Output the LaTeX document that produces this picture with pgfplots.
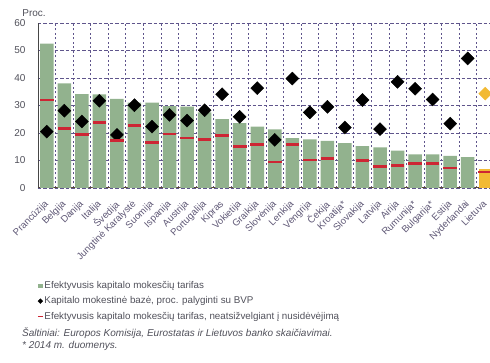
\documentclass[border=0pt]{standalone}
\usepackage{pgfplots}
\pgfplotsset{compat=1.18}
\usepackage{fontspec}
\setmainfont{Liberation Sans}
\definecolor{barg}{RGB}{146,178,142}
\definecolor{baro}{RGB}{242,186,52}
\definecolor{redm}{RGB}{205,38,52}
\definecolor{gridc}{RGB}{95,85,140}
\definecolor{labc}{RGB}{95,88,118}
\definecolor{txtc}{RGB}{80,80,90}
\begin{document}
\begin{tikzpicture}[x=1pt,y=1pt]
\begin{axis}[
  at={(38pt,175pt)}, anchor=south west,
  scale only axis, width=452pt, height=165pt,
  xmin=-0.5, xmax=25.27, ymin=0, ymax=60,
  clip=true,
  axis x line=bottom, axis y line=left,
  axis line style={-},
  x axis line style={draw={rgb,255:red,90;green,70;blue,50}, line width=1pt},
  y axis line style={draw={rgb,255:red,70;green,70;blue,70}, line width=0.8pt},
  xtick={0,...,25},
  minor xtick={0.5,1.5,...,24.5},
  ytick={0,10,...,60},
  major tick length=0pt, minor tick length=0pt,
  ymajorgrids, xminorgrids,
  major grid style={gridc, dash pattern=on 3.5pt off 2pt, line width=0.6pt},
  minor grid style={gridc, dash pattern=on 2pt off 2.5pt, line width=0.55pt},
  /pgf/number format/assume math mode=true,
  yticklabel style={font=\fontsize{10}{12}\selectfont, text=txtc, xshift=-9pt},
  xticklabels={Prancūzija,Belgija,Danija,Italija,Švedija,Jungtinė Karalystė,Suomija,Ispanija,Austrija,Portugalija,Kipras,Vokietija,Graikija,Slovėnija,Lenkija,Vengrija,Čekija,Kroatija*,Slovakija,Latvija,Airija,Rumunija*,Bulgarija*,Estija,Nyderlandai,Lietuva},
  xticklabel style={xshift=-3pt, yshift=-10pt, rotate=45, anchor=north east, font=\fontsize{9.6}{10}\selectfont, text=labc, inner sep=1pt},
  legend style={at={(-0.002,-0.56)}, anchor=north west, draw=none, fill=none,
    font=\fontsize{9.8}{11}\selectfont, text=txtc, row sep=4.6pt, inner sep=0pt,
    nodes={inner sep=1pt}},
  legend cell align=left,
]
\addplot[ybar, bar width=13.5pt, bar shift=0pt, fill=barg, draw=none,
  legend image code/.code={\fill[barg] (0pt,-2.3pt) rectangle (4.6pt,2.3pt);}]
  coordinates {(0,52.5)(1,38.0)(2,34.1)(3,34.0)(4,32.4)(5,31.0)(6,31.0)(7,29.8)(8,29.6)(9,27.5)(10,25.0)(11,23.6)(12,22.3)(13,21.3)(14,18.1)(15,17.7)(16,17.1)(17,16.3)(18,15.2)(19,14.8)(20,13.6)(21,12.2)(22,12.2)(23,11.7)(24,11.2)};
\addlegendentry{Efektyvusis kapitalo mokesčių tarifas}
\addplot[ybar, bar width=13.5pt, bar shift=0pt, fill=baro, draw=none, forget plot]
  coordinates {(25,7.0)};
\addplot[only marks, mark=square*, mark size=4.6pt, mark options={rotate=45, fill=black, draw=black},
  legend image code/.code={\fill[black] (0pt,0pt) -- (2.4pt,2.4pt) -- (4.8pt,0pt) -- (2.4pt,-2.4pt) -- cycle;}]
  coordinates {(0,20.5)(1,28.1)(2,24.2)(3,31.7)(4,19.3)(5,30.1)(6,22.3)(7,26.6)(8,24.5)(9,28.3)(10,34.1)(11,25.9)(12,36.3)(13,17.5)(14,39.8)(15,27.5)(16,29.5)(17,22.0)(18,32.0)(19,21.4)(20,38.6)(21,36.1)(22,32.2)(23,23.4)(24,47.1)};
\addlegendentry{Kapitalo mokestinė bazė, proc. palyginti su BVP}
\addplot[only marks, mark=square*, mark size=4.6pt, mark options={rotate=45, fill=baro, draw=baro}, forget plot]
  coordinates {(25,34.3)};
\addplot[only marks, mark=-, mark size=6.8pt, mark options={draw=redm, line width=2.6pt},
  legend image code/.code={\draw[redm, line width=1.4pt] (0pt,0pt) -- (4.8pt,0pt);}]
  coordinates {(0,32.0)(1,21.7)(2,19.4)(3,23.9)(4,17.2)(5,22.7)(6,16.6)(7,19.6)(8,18.2)(9,17.6)(10,19.0)(11,15.1)(12,15.8)(13,9.4)(14,15.8)(15,10.2)(16,10.8)(18,9.9)(19,7.8)(20,8.2)(21,9.0)(22,9.0)(23,7.2)(25,5.8)};
\addlegendentry{Efektyvusis kapitalo mokesčių tarifas, neatsižvelgiant į nusidėvėjimą}
\end{axis}
\node[anchor=center, font=\fontsize{10}{11}\selectfont, text=txtc] at (34pt,350pt) {Proc.};
\node[anchor=west, inner sep=0pt, font=\itshape\fontsize{10}{11}\selectfont, text=txtc] at (22pt,30pt) {Šaltiniai: Europos Komisija, Eurostatas ir Lietuvos banko skaičiavimai.};
\node[anchor=west, inner sep=0pt, font=\itshape\fontsize{10}{11}\selectfont, text=txtc] at (22pt,17pt) {* 2014 m. duomenys.};
\pgfresetboundingbox
\useasboundingbox (0pt,0pt) rectangle (490pt,363pt);
\end{tikzpicture}
\end{document}
